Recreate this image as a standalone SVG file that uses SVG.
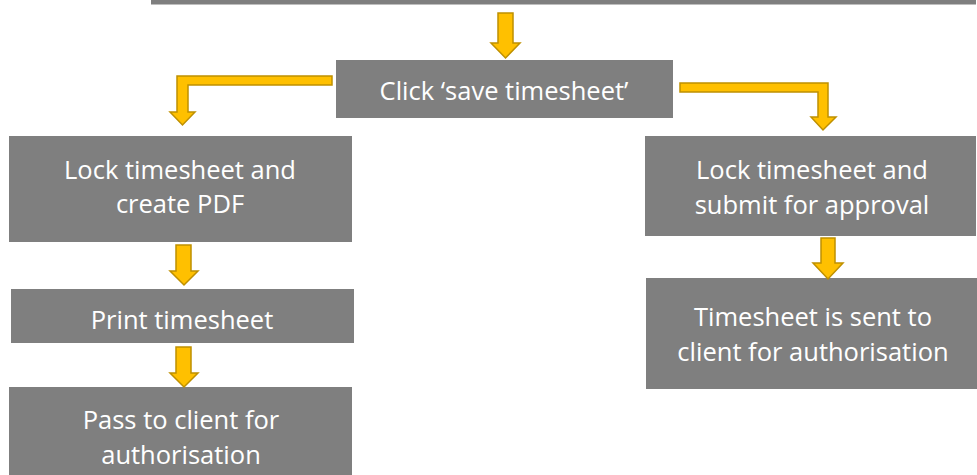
<svg xmlns="http://www.w3.org/2000/svg" width="977" height="475" viewBox="0 0 977 475">
<style>
.box{fill:#7f7f7f}
.t{fill:#ffffff;font-family:"Open Sans","Liberation Sans",sans-serif;font-size:25.5px;text-anchor:middle}
.arr{fill:#ffc000;stroke:#bf9000;stroke-width:1.5;stroke-linejoin:miter}
</style>
<rect width="977" height="475" fill="#ffffff"/>
<g id="top-bar"><rect class="box" x="151" y="0" width="825" height="4.5"/></g>
<g id="click-save"><rect class="box" x="336" y="60" width="337" height="58"/><text class="t" x="504" y="100">Click ‘save timesheet’</text></g>
<g id="lock-pdf"><rect class="box" x="9" y="136" width="343" height="106"/><text class="t" x="180" y="179">Lock timesheet and</text><text class="t" x="180" y="213">create PDF</text></g>
<g id="lock-submit"><rect class="box" x="645" y="136" width="331" height="100"/><text class="t" x="812" y="179">Lock timesheet and</text><text class="t" x="812" y="214">submit for approval</text></g>
<g id="print"><rect class="box" x="11" y="289" width="343" height="54"/><text class="t" x="182" y="329">Print timesheet</text></g>
<g id="sent"><rect class="box" x="646" y="278" width="331" height="111"/><text class="t" x="813" y="326">Timesheet is sent to</text><text class="t" x="813" y="361">client for authorisation</text></g>
<g id="pass"><rect class="box" x="9" y="387" width="343" height="88"/><text class="t" x="181" y="429">Pass to client for</text><text class="t" x="181" y="464">authorisation</text></g>
<g id="connectors">
<polygon class="arr" points="498,13 513,13 513,43 520,43 505.5,58 491,43 498,43"/>
<polygon class="arr" points="332,76 177,76 177,112 170,112 182.5,125 195,112 188,112 188,85 332,85"/>
<polygon class="arr" points="680,83 828,83 828,117 836,117 823,130 811,117 818,117 818,92 680,92"/>
<polygon class="arr" points="176,245 191,245 191,271 198,271 184,285 170,271 176,271"/>
<polygon class="arr" points="176,347 191,347 191,373 198,373 184,387 170,373 176,373"/>
<polygon class="arr" points="821,238 835,238 835,263 843,263 828,279 813,263 821,263"/>
</g>
</svg>
